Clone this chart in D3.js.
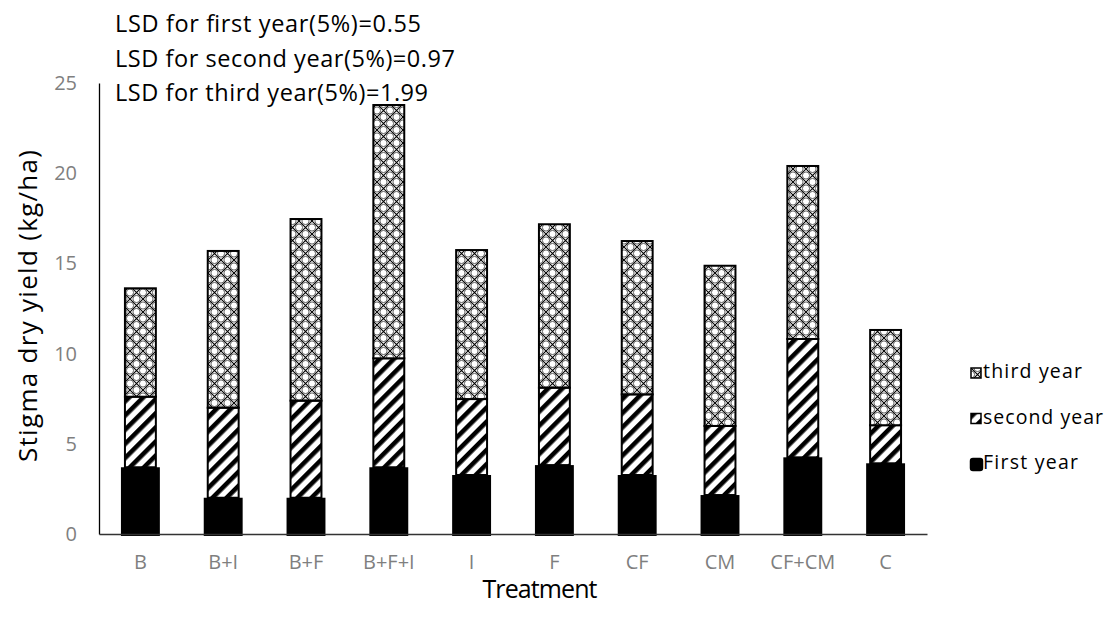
<!DOCTYPE html>
<html>
<head>
<meta charset="utf-8">
<script src="https://cdnjs.cloudflare.com/ajax/libs/d3/7.8.5/d3.min.js"></script>
<style>
  body { margin: 0; background: #fff; }
  svg text { font-family: "Open Sans", Lato, sans-serif; }
</style>
</head>
<body>
<div id="chart"></div>
<script>
// 处理方式
const categories = ['B', 'B+I', 'B+F', 'B+F+I', 'I', 'F', 'CF', 'CM', 'CF+CM', 'C']
// 每年的柱高 (kg/ha)
const firstYear = [3.70, 2.01, 2.01, 3.70, 3.27, 3.82, 3.27, 2.16, 4.25, 3.92]
const secondYear = [3.91, 4.99, 5.38, 6.04, 4.21, 4.29, 4.47, 3.83, 6.56, 2.11]
const thirdYear = [6.01, 8.69, 10.07, 14.04, 8.26, 9.06, 8.50, 8.88, 9.59, 5.28]
const yTicks = [0, 5, 10, 15, 20, 25]
const lsdLines = [
  'LSD for first year(5%)=0.55',
  'LSD for second year(5%)=0.97',
  'LSD for third year(5%)=1.99'
]
const legendNames = ['third year', 'second year', 'First year']

const width = 1108
const height = 618
const plotLeft = 99
const plotRight = 927
const plotTop = 83
const plotBottom = 534

let svg = d3.select('#chart').append('svg')
  .attr('width', width)
  .attr('height', height)

// 填充图案
let defs = svg.append('defs')
let stripe = defs.append('pattern')
  .attr('id', 'stripe')
  .attr('patternUnits', 'userSpaceOnUse')
  .attr('width', 10)
  .attr('height', 10)
  .attr('patternTransform', 'rotate(45)')
stripe.append('rect').attr('width', 10).attr('height', 10).attr('fill', '#fff')
stripe.append('rect').attr('x', 0).attr('width', 4.6).attr('height', 10).attr('fill', '#000')

let lattice = defs.append('pattern')
  .attr('id', 'lattice')
  .attr('patternUnits', 'userSpaceOnUse')
  .attr('width', 13)
  .attr('height', 13)
lattice.append('rect').attr('width', 13).attr('height', 13).attr('fill', '#fff')
lattice.append('path')
  .attr('d', 'M0,0L13,13M13,0L0,13')
  .attr('stroke', '#000')
  .attr('stroke-width', 1.1)
  .attr('fill', 'none')
;[[6.5, 0], [0, 6.5], [13, 6.5], [6.5, 13]].forEach(c => {
  lattice.append('circle')
    .attr('cx', c[0]).attr('cy', c[1]).attr('r', 3.6)
    .attr('fill', '#fff').attr('stroke', '#333').attr('stroke-width', 0.8)
})

// 比例尺
let x = d3.scaleBand().domain(categories).range([plotLeft, plotRight]).paddingInner(0.53).paddingOuter(0.265)
let y = d3.scaleLinear().domain([0, 25]).range([plotBottom, plotTop])

// 堆叠数据
let rows = categories.map((c, i) => ({ cat: c, first: firstYear[i], second: secondYear[i], third: thirdYear[i] }))
let stack = d3.stack().keys(['first', 'second', 'third'])(rows)

// 第三年 / 第二年
let fills = { second: 'url(#stripe)', third: 'url(#lattice)' }
stack.filter(s => s.key !== 'first').forEach(s => {
  svg.append('g').selectAll('rect')
    .data(s)
    .join('rect')
    .attr('x', d => x(d.data.cat) + 4)
    .attr('width', x.bandwidth() - 8)
    .attr('y', d => y(d[1]))
    .attr('height', d => y(d[0]) - y(d[1]))
    .attr('fill', fills[s.key])
    .attr('stroke', '#000')
    .attr('stroke-width', 2)
})

// 第一年 黑色柱
svg.append('g').selectAll('rect')
  .data(stack[0])
  .join('rect')
  .attr('x', d => x(d.data.cat))
  .attr('width', x.bandwidth())
  .attr('y', d => y(d[1]))
  .attr('height', d => y(d[0]) - y(d[1]) + 2)
  .attr('fill', '#000')

// 坐标轴
let yAxis = svg.append('g')
  .attr('transform', 'translate(' + plotLeft + ',0)')
  .call(d3.axisLeft(y).tickValues(yTicks).tickSize(0).tickPadding(22))
yAxis.attr('font-family', null)
yAxis.select('.domain').attr('stroke', '#000').attr('stroke-width', 1.3)
yAxis.selectAll('text').attr('fill', '#7f7f7f').attr('font-size', 20)

let xAxis = svg.append('g')
  .attr('transform', 'translate(0,' + plotBottom + ')')
  .call(d3.axisBottom(x).tickSize(0).tickPadding(21))
xAxis.attr('font-family', null)
xAxis.select('.domain').attr('stroke', '#333').attr('stroke-width', 1.3)
xAxis.selectAll('text').attr('fill', '#7f7f7f').attr('font-size', 20)

// 轴标题
svg.append('text')
  .attr('transform', 'translate(37,' + 306 + ') rotate(-90)')
  .attr('text-anchor', 'middle')
  .attr('font-size', 26)
  .attr('textLength', 312)
  .attr('lengthAdjust', 'spacing')
  .attr('fill', '#000')
  .text('Stigma dry yield (kg/ha)')
svg.append('text')
  .attr('x', 540).attr('y', 598)
  .attr('text-anchor', 'middle')
  .attr('font-size', 25)
  .attr('textLength', 115)
  .attr('lengthAdjust', 'spacing')
  .attr('fill', '#000')
  .text('Treatment')

// LSD 说明
let lsdWidth = [306, 340, 313]
svg.append('g').selectAll('text')
  .data(lsdLines)
  .join('text')
  .attr('x', 115)
  .attr('y', (d, i) => 32 + i * 34.5)
  .attr('font-size', 23.5)
  .attr('textLength', (d, i) => lsdWidth[i])
  .attr('lengthAdjust', 'spacing')
  .attr('fill', '#000')
  .text(d => d)

// 图例
let legendFill = ['url(#lattice)', 'url(#stripe)', '#000']
let legendWidth = [99, 120, 95]
let legend = svg.append('g').selectAll('g')
  .data(legendNames)
  .join('g')
  .attr('transform', (d, i) => 'translate(971,' + (368 + i * 45.5) + ')')
legend.append('rect')
  .attr('width', (d, i) => i === 2 ? 11 : 10)
  .attr('height', (d, i) => i === 2 ? 11 : 10)
  .attr('fill', (d, i) => legendFill[i])
  .attr('stroke', '#000')
  .attr('stroke-width', (d, i) => i === 2 ? 2.5 : 1.5)
  .attr('rx', (d, i) => i === 2 ? 2 : 0)
legend.append('text')
  .attr('x', 12).attr('y', 10)
  .attr('font-size', 19.5)
  .attr('textLength', (d, i) => legendWidth[i])
  .attr('lengthAdjust', 'spacing')
  .attr('fill', '#000')
  .text(d => d)
</script>
</body>
</html>
